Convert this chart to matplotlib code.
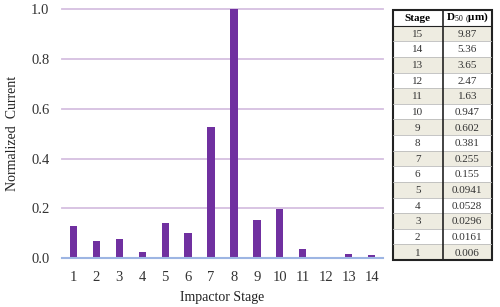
import matplotlib
matplotlib.use("Agg")
import matplotlib.pyplot as plt
from matplotlib.patches import Rectangle

plt.rcParams['font.family'] = ['Liberation Serif', 'DejaVu Serif']
plt.rcParams['mathtext.fontset'] = 'custom'
plt.rcParams['mathtext.rm'] = 'Liberation Serif'
plt.rcParams['mathtext.it'] = 'Liberation Serif:italic'
plt.rcParams['mathtext.bf'] = 'Liberation Serif:bold'

stages = list(range(1, 15))
values = [0.131, 0.069, 0.077, 0.027, 0.142, 0.103, 0.527, 1.0,
          0.154, 0.199, 0.037, 0.003, 0.016, 0.012]
yticks = [0.0, 0.2, 0.4, 0.6, 0.8, 1.0]

table_stages = ["15", "14", "13", "12", "11", "10", "9", "8", "7", "6", "5", "4", "3", "2", "1"]
table_d50 = ["9.87", "5.36", "3.65", "2.47", "1.63", "0.947", "0.602", "0.381",
             "0.255", "0.155", "0.0941", "0.0528", "0.0296", "0.0161", "0.006"]

fig = plt.figure(figsize=(5, 3.07), dpi=100)
ax = fig.add_axes([0.124, 0.1586, 0.642, 0.812])
ax.bar(stages, values, width=0.32, color='#7030A0', zorder=3)
ax.set_xlim(0.5, 14.5)
ax.set_ylim(0, 1.0)
ax.set_yticks(yticks)
ax.set_yticklabels([f"{v:.1f}" for v in yticks])
ax.set_xticks(stages)
for y in yticks[1:]:
    ax.axhline(y, color='#D5BFE0', lw=1.3, zorder=1, clip_on=False)
ax.axhline(0, color='#9DB5E3', lw=1.5, zorder=4, clip_on=False)
for s in ax.spines.values():
    s.set_visible(False)
ax.tick_params(length=0, labelsize=10.5, colors='#333333')
ax.tick_params(axis='y', pad=9)
ax.tick_params(axis='x', pad=9)
ax.set_ylabel("Normalized  Current", fontsize=10, labelpad=9, color='#222222')
ax.set_xlabel("Impactor Stage", fontsize=10, labelpad=5, color='#222222')

# table
tax = fig.add_axes([0.786, 0.153, 0.198, 0.814])
n = len(table_stages) + 1
tax.set_xlim(0, 2)
tax.set_ylim(n, 0)
tax.axis('off')
header = ["Stage", r"D$_{50}$ $_{(}$μm)"]
for i in range(n):
    if i == 0:
        fc = 'white'
    else:
        fc = '#EEECE1' if i % 2 == 1 else 'white'
    tax.add_patch(Rectangle((0, i), 2, 1, facecolor=fc, edgecolor='none'))
    if i > 0:
        tax.plot([0, 2], [i, i], color='#BBBBBB', lw=0.6)
for i in range(n):
    if i == 0:
        tax.text(0.5, i + 0.55, header[0], ha='center', va='center', fontsize=8, weight='bold')
        tax.text(1.5, i + 0.55, header[1], ha='center', va='center', fontsize=8, weight='bold')
    else:
        tax.text(0.5, i + 0.55, table_stages[i - 1], ha='center', va='center', fontsize=8, color='#333333')
        tax.text(1.5, i + 0.55, table_d50[i - 1], ha='center', va='center', fontsize=8, color='#333333')
tax.plot([0, 2], [1, 1], color='#222222', lw=0.8)
tax.plot([1, 1], [0, n], color='#222222', lw=1.2)
tax.add_patch(Rectangle((0, 0), 2, n, facecolor='none', edgecolor='#222222', lw=1.5, clip_on=False))

fig.savefig("out.png", dpi=100)
